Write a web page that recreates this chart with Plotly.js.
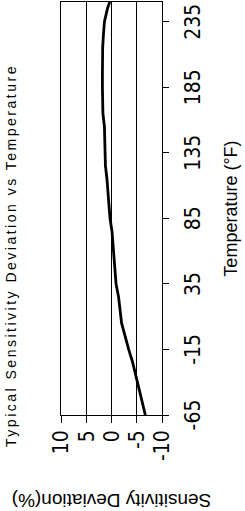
<!DOCTYPE html>
<html>
<head>
<meta charset="utf-8">
<script src="https://cdn.plot.ly/plotly-3.0.1.min.js"></script>
<style>
  html, body { margin: 0; padding: 0; background: #fff; width: 245px; height: 511px; overflow: hidden; }
  #chart { position: absolute; left: 0; top: 0; width: 511px; height: 245px;
           transform-origin: 0 0; transform: translate(0px, 511px) rotate(-90deg); }
  #chart .gtitle { letter-spacing: 2.5px; }
</style>
</head>
<body>
<div id="chart"></div>
<script>
// Temperature (°F)
const temperature = [-65, -55, -45, -35, -25, -15, -5, 5, 15, 25, 35, 45, 55, 65, 75, 85, 95, 105,
                     115, 125, 135, 145, 155, 165, 175, 185, 195, 205, 215, 225, 235, 245, 250];
// Sensitivity deviation (%)
const deviation = [-6.7, -6.1, -5.4, -4.8, -4.2, -3.4, -2.7, -2.0, -1.7, -1.4, -0.9, -0.75, -0.6, -0.3,
                   -0.1, 0.3, 0.5, 0.65, 0.9, 1.2, 1.3, 1.3, 1.4, 1.7, 1.8, 1.8, 1.8, 1.8, 1.75, 1.6,
                   1.4, 0.8, 0.35];
const xTickVals = [-65, -15, 35, 85, 135, 185, 235];
const yTickVals = [-10, -5, 0, 5, 10];

const tickFont = { family: "'Liberation Sans Narrow', 'DejaVu Sans Condensed', Arial, sans-serif", size: 21, color: '#000' };

Plotly.newPlot('chart', [{
  x: temperature,
  y: deviation,
  type: 'scatter',
  mode: 'lines',
  line: { color: '#000', width: 2.8 },
  hoverinfo: 'none'
}], {
  width: 511,
  height: 245,
  margin: { l: 96, r: 2, t: 61, b: 83 },
  paper_bgcolor: '#fff',
  plot_bgcolor: '#fff',
  showlegend: false,
  title: {
    text: 'Typical Sensitivity Deviation vs Temperature',
    font: { family: 'Arial, Liberation Sans, sans-serif', size: 14, color: '#000' },
    x: 0.5, xref: 'container', xanchor: 'center',
    y: 0.955, yref: 'container', yanchor: 'middle'
  },
  xaxis: {
    range: [-65, 250],
    tickvals: xTickVals,
    ticktext: xTickVals.map(String),
    ticks: 'outside', ticklen: 6, tickcolor: '#000', tickwidth: 1,
    showgrid: false, zeroline: false,
    showline: true, linecolor: '#000', linewidth: 1, mirror: true,
    tickfont: tickFont,
    ticklabelstandoff: 6,
    title: { text: 'Temperature (°F)', font: { family: 'Arial, sans-serif', size: 18, color: '#000' }, standoff: 20 }
  },
  yaxis: {
    range: [-10, 10],
    tickvals: yTickVals,
    ticktext: yTickVals.map(String),
    ticks: 'outside', ticklen: 7, tickcolor: '#000', tickwidth: 1,
    showgrid: true, gridcolor: '#000', gridwidth: 1,
    zeroline: false,
    showline: true, linecolor: '#000', linewidth: 1, mirror: true,
    tickfont: tickFont,
    ticklabelstandoff: 3,
    title: { text: 'Sensitivity Deviation(%)', font: { family: 'Arial, sans-serif', size: 19, color: '#000' }, standoff: 28 }
  }
}, { staticPlot: true, displayModeBar: false });
</script>
</body>
</html>
